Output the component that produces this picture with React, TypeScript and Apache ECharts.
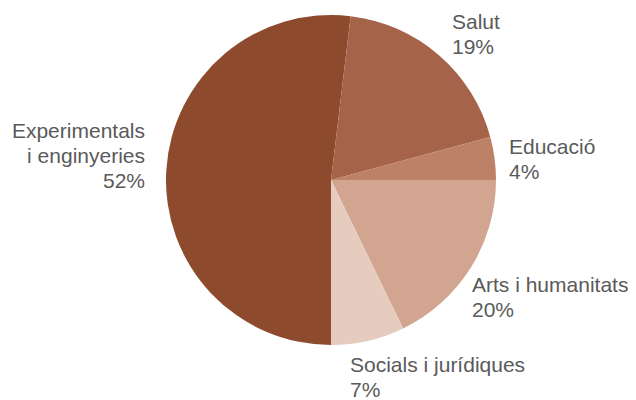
import React, { useEffect, useRef } from "react";
import * as echarts from "echarts";

// Slices in drawing order (clockwise from 3 o'clock)
const categories = [
  "Arts i humanitats",
  "Socials i jurídiques",
  "Experimentals i enginyeries",
  "Salut",
  "Educació",
];
const displayNames = [
  "Arts i humanitats",
  "Socials i jurídiques",
  "Experimentals\ni enginyeries",
  "Salut",
  "Educació",
];
const shares = [17.8, 7.2, 51.9, 18.9, 4.2];
const percentLabels = ["20%", "7%", "52%", "19%", "4%"];
const colors = ["#D2A590", "#E6CBBF", "#8E4A2D", "#A5634A", "#BC8167"];

// label anchor positions (style, not data)
const labelPos = [
  { x: 472, y: 272, align: "left" },
  { x: 350, y: 352, align: "left" },
  { x: 145, y: 118, align: "right" },
  { x: 452, y: 9, align: "left" },
  { x: 509, y: 134, align: "left" },
];

export default function App() {
  const ref = useRef<HTMLDivElement>(null);
  useEffect(() => {
    if (!ref.current) return;
    const chart = echarts.init(ref.current, null, { renderer: "svg" });
    chart.setOption({
      animation: false,
      backgroundColor: "#ffffff",
      series: [
        {
          type: "pie",
          center: [331, 180],
          radius: 165,
          startAngle: 0,
          clockwise: true,
          avoidLabelOverlap: false,
          itemStyle: { borderWidth: 0 },
          label: {
            show: true,
            position: "outside",
            color: "#5a5a5a",
            fontFamily: "Liberation Sans, Arial, sans-serif",
            fontSize: 21,
            lineHeight: 25,
            formatter: (p: any) => displayNames[p.dataIndex] + "\n" + percentLabels[p.dataIndex],
          },
          labelLine: { show: false },
          labelLayout: (p: any) => {
            const l = labelPos[p.dataIndex];
            return { x: l.x, y: l.y, align: l.align, verticalAlign: "top" };
          },
          emphasis: { disabled: true },
          data: categories.map((c, i) => ({
            name: c,
            value: shares[i],
            itemStyle: { color: colors[i] },
            label: { align: labelPos[i].align },
          })),
        },
      ],
    });
    return () => chart.dispose();
  }, []);
  return (
    <div
      ref={ref}
      style={{ position: "fixed", left: 0, top: 0, width: 636, height: 400 }}
    />
  );
}
